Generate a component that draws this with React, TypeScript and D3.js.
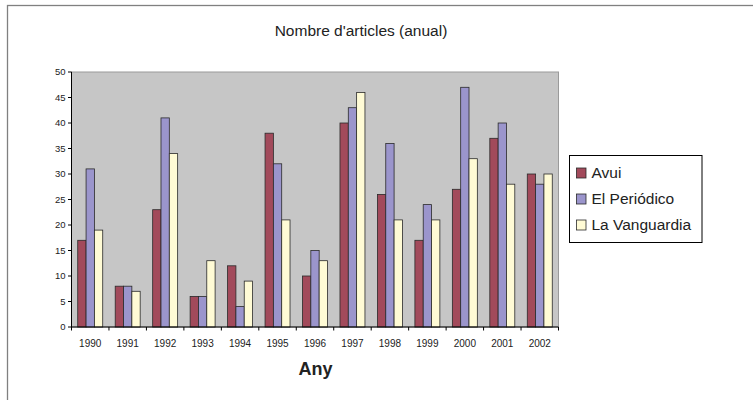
import React from "react";
import * as d3 from "d3";

const years = ["1990","1991","1992","1993","1994","1995","1996","1997","1998","1999","2000","2001","2002"];
const seriesNames = ["Avui", "El Periódico", "La Vanguardia"];
const avui = [17, 8, 23, 6, 12, 38, 10, 40, 26, 17, 27, 37, 30];
const periodico = [31, 8, 41, 6, 4, 32, 15, 43, 36, 24, 47, 40, 28];
const vanguardia = [19, 7, 34, 13, 9, 21, 13, 46, 21, 21, 33, 28, 30];
const yTicks = [0, 5, 10, 15, 20, 25, 30, 35, 40, 45, 50];
const colors = ["#A24A5B", "#9B95CC", "#FFFBD5"];

const title = "Nombre d'articles (anual)";
const xTitle = "Any";

export default function App() {
  const W = 753, H = 400;
  const left = 71.5, right = 558.5, top = 72, bottom = 327;
  const data = [avui, periodico, vanguardia];

  const x0 = d3.scaleBand<string>().domain(years).range([left, right]).padding(0);
  const x1 = d3.scaleBand<string>().domain(seriesNames).range([0, x0.bandwidth()]).paddingInner(0).paddingOuter(0.75);
  const y = d3.scaleLinear().domain([0, 50]).range([bottom, top]);

  const font = "'Liberation Sans', Arial, Helvetica, sans-serif";

  return (
    <svg width={W} height={H} style={{ position: "absolute", left: 0, top: 0, background: "#fff" }} fontFamily={font}>
      {/* outer frame */}
      <rect x={7.5} y={5.5} width={900} height={600} fill="#fff" stroke="#808080" strokeWidth={1.3} />
      {/* title */}
      <text x={361} y={36} textAnchor="middle" fontSize={15.5} fill="#222">{title}</text>
      {/* plot area */}
      <rect x={left} y={top} width={right - left} height={bottom - top} fill="#C6C6C6" stroke="#9a9a9a" strokeWidth={1} />
      {/* bars */}
      {years.map((yr, i) => (
        <g key={yr} transform={`translate(${x0(yr)},0)`}>
          {seriesNames.map((s, k) => (
            <rect
              key={s}
              x={x1(s)}
              y={y(data[k][i])}
              width={x1.bandwidth()}
              height={y(0) - y(data[k][i])}
              fill={colors[k]}
              stroke="#2a2a2a"
              strokeWidth={0.8}
            />
          ))}
        </g>
      ))}
      {/* y axis */}
      <line x1={left} x2={left} y1={top} y2={bottom} stroke="#000" strokeWidth={1} />
      {yTicks.map((t) => (
        <g key={t}>
          <line x1={left - 3.5} x2={left} y1={y(t)} y2={y(t)} stroke="#000" strokeWidth={1} />
          <text x={left - 6} y={y(t)} dy="0.35em" textAnchor="end" fontSize={9.5} fill="#222">{t}</text>
        </g>
      ))}
      {/* x axis */}
      <line x1={left} x2={right} y1={bottom} y2={bottom} stroke="#000" strokeWidth={1} />
      {years.map((yr) => (
        <line key={"t" + yr} x1={x0(yr)!} x2={x0(yr)!} y1={bottom} y2={bottom + 3.5} stroke="#000" strokeWidth={1} />
      ))}
      <line x1={right} x2={right} y1={bottom} y2={bottom + 3.5} stroke="#000" strokeWidth={1} />
      {years.map((yr) => (
        <text key={"l" + yr} x={x0(yr)! + x0.bandwidth() / 2} y={347} textAnchor="middle" fontSize={10} fill="#222">{yr}</text>
      ))}
      <text x={315.5} y={375} textAnchor="middle" fontSize={18} fontWeight="bold" fill="#222">{xTitle}</text>
      {/* legend */}
      <rect x={569.5} y={155.5} width={132.5} height={87} fill="#fff" stroke="#000" strokeWidth={1} />
      {seriesNames.map((s, k) => (
        <g key={s} transform={`translate(0,${173 + k * 26})`}>
          <rect x={576.5} y={-5} width={9.5} height={10} fill={colors[k]} stroke="#2a2a2a" strokeWidth={0.8} />
          <text x={591.5} y={5.3} fontSize={15.5} fill="#222">{s}</text>
        </g>
      ))}
    </svg>
  );
}
